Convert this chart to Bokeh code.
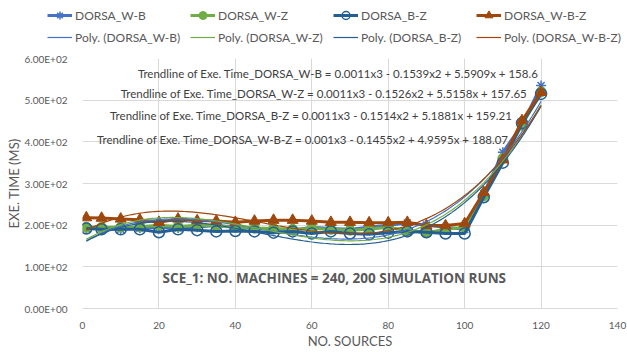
import numpy as np
from bokeh.plotting import figure
from bokeh.layouts import column
from bokeh.models import Range1d, FixedTicker, Legend, LegendItem, Label
from bokeh.embed import file_html
from bokeh.resources import INLINE

# ---------------- data ----------------
sources = [1, 5, 10, 15, 20, 25, 30, 35, 40, 45, 50, 55, 60, 65, 70, 75, 80,
           85, 90, 95, 100, 105, 110, 115, 120]

dorsa_w_b = [192, 192, 190, 193, 195, 193, 195, 200, 195, 192, 190, 188, 195,
             192, 190, 195, 200, 205, 200, 195, 190, 275, 375, 440, 535]
dorsa_w_z = [195, 195, 195, 196, 200, 197, 200, 198, 195, 193, 192, 190, 192,
             190, 188, 190, 195, 187, 182, 190, 195, 270, 360, 440, 520]
dorsa_b_z = [192, 190, 190, 190, 183, 190, 188, 185, 186, 185, 182, 185, 180,
             185, 180, 178, 182, 185, 183, 180, 180, 267, 350, 445, 515]
dorsa_w_b_z = [218, 217, 215, 213, 207, 215, 211, 210, 207, 210, 212, 212, 210,
               207, 207, 206, 206, 207, 199, 199, 204, 279, 357, 451, 519]

series_names = ["DORSA_W-B", "DORSA_W-Z", "DORSA_B-Z", "DORSA_W-B-Z"]
equations = [
    "Trendline of Exe. Time_DORSA_W-B = 0.0011x3 - 0.1539x2 + 5.5909x + 158.6",
    "Trendline of Exe. Time_DORSA_W-Z = 0.0011x3 - 0.1526x2 + 5.5158x + 157.65",
    "Trendline of Exe. Time_DORSA_B-Z = 0.0011x3 - 0.1514x2 + 5.1881x + 159.21",
    "Trendline of Exe. Time_DORSA_W-B-Z = 0.001x3 - 0.1455x2 + 4.9595x + 188.07",
]
x_ticks = [0, 20, 40, 60, 80, 100, 120, 140]
y_ticks = [0, 100, 200, 300, 400, 500, 600]
note_text = "SCE_1: NO. MACHINES = 240, 200 SIMULATION RUNS"

# ---------------- styles ----------------
FONT = "Lato"
TXT = "#595959"
GRID = "#D9D9D9"
colors = ["#4472C4", "#70AD47", "#255E91", "#9E480E"]
markers = ["asterisk", "circle", "circle", "triangle"]
msizes = [10, 10, 11, 11]

# ---------------- main chart ----------------
p = figure(width=627, height=302, output_backend="svg", toolbar_location=None,
           x_range=Range1d(0, 140), y_range=Range1d(0, 600),
           min_border_left=82, min_border_right=10, min_border_top=8,
           min_border_bottom=44)
p.outline_line_color = None
p.background_fill_color = "white"
p.border_fill_color = "white"
p.frame_align = False

p.xgrid.ticker = FixedTicker(ticks=x_ticks)
p.ygrid.ticker = FixedTicker(ticks=y_ticks)
p.xgrid.grid_line_color = GRID
p.ygrid.grid_line_color = GRID

p.xaxis.ticker = FixedTicker(ticks=x_ticks)
p.yaxis.ticker = FixedTicker(ticks=y_ticks)
p.yaxis.major_label_overrides = {v: f"{v:.2E}" for v in y_ticks}
for ax in (p.xaxis, p.yaxis):
    ax.major_tick_line_color = None
    ax.minor_tick_line_color = None
    ax.major_label_text_font = FONT
    ax.major_label_text_font_size = "10px"
    ax.major_label_text_color = TXT
    ax.axis_label_text_font = FONT
    ax.axis_label_text_font_size = "13px"
    ax.axis_label_text_font_style = "normal"
    ax.axis_label_text_color = TXT
p.xaxis.axis_line_color = GRID
p.yaxis.axis_line_color = None
p.xaxis.major_label_standoff = 7
p.yaxis.major_label_standoff = 9
p.xaxis.axis_label = "NO. SOURCES"
p.yaxis.axis_label = "EXE. TIME (MS)"
p.xaxis.axis_label_standoff = 1
p.yaxis.axis_label_standoff = 0

all_series = [dorsa_w_b, dorsa_w_z, dorsa_b_z, dorsa_w_b_z]


def draw_series(fig, xs, ys, name, c, m, s):
    lr = fig.line(xs, ys, line_color=c, line_width=3)
    if name == "DORSA_B-Z":
        sr = fig.scatter(xs, ys, marker=m, size=s, line_color=c, line_width=1.5,
                         fill_color=None)
    elif m == "asterisk":
        sr = fig.scatter(xs, ys, marker=m, size=s, line_color=c, line_width=1.5)
    else:
        sr = fig.scatter(xs, ys, marker=m, size=s, line_color=c, fill_color=c)
    return lr, sr


for name, ys, c, m, s in zip(series_names, all_series, colors, markers, msizes):
    draw_series(p, sources, ys, name, c, m, s)

trend_curves = []
for name, ys, c in zip(series_names, all_series, colors):
    coef = np.polyfit(sources, ys, 3)
    xs = np.linspace(min(sources), max(sources), 200)
    yfit = np.polyval(coef, xs)
    trend_curves.append((xs, yfit))
    p.line(xs, yfit, line_color=c, line_width=1.2)

# trendline equations (right aligned)
eq_pos = [(119.3, 564), (116.4, 516), (112.5, 463), (111.5, 406)]
for t, (ex, ey) in zip(equations, eq_pos):
    p.add_layout(Label(x=ex, y=ey, text=t, text_align="right", text_baseline="middle",
                       text_font=FONT, text_font_size="11.5px", text_color="#404040"))

p.add_layout(Label(x=65.9, y=74, text=note_text, text_align="center",
                   text_baseline="middle", text_font="Open Sans", text_font_size="13.5px",
                   text_font_style="bold", text_color=TXT))

# ---------------- legend strip ----------------
# same series drawn in a strip whose ranges keep them out of view; only legend shows
lgd = figure(width=627, height=50, output_backend="svg", toolbar_location=None,
             x_range=Range1d(0, 627), y_range=Range1d(0, 50),
             x_axis_location=None, y_axis_location=None,
             min_border=0)
lgd.outline_line_color = None
lgd.xgrid.visible = False
lgd.ygrid.visible = False
lgd.frame_align = False

series_items = []
trend_items = []
for name, ys, c, m, s, (txs, tys) in zip(series_names, all_series, colors, markers,
                                         msizes, trend_curves):
    lr, sr = draw_series(lgd, sources, ys, name, c, m, s)
    series_items.append(LegendItem(label=name, renderers=[lr, sr]))
    tr = lgd.line(txs, tys, line_color=c, line_width=1.2)
    trend_items.append(LegendItem(label=f"Poly. ({name})", renderers=[tr]))


def make_legend(items, vy):
    lg = Legend(items=items, orientation="horizontal", location=(47, vy),
                glyph_width=25, glyph_height=20, label_height=20, label_width=115,
                label_standoff=3, spacing=0, padding=0, margin=0,
                border_line_color=None, background_fill_alpha=0,
                label_text_font=FONT, label_text_font_size="12px",
                label_text_color=TXT)
    lgd.add_layout(lg, "center")


make_legend(series_items, 25)
make_legend(trend_items, 3)

layout = column(lgd, p, spacing=0)
open("out.html", "w").write(file_html(layout, INLINE))
